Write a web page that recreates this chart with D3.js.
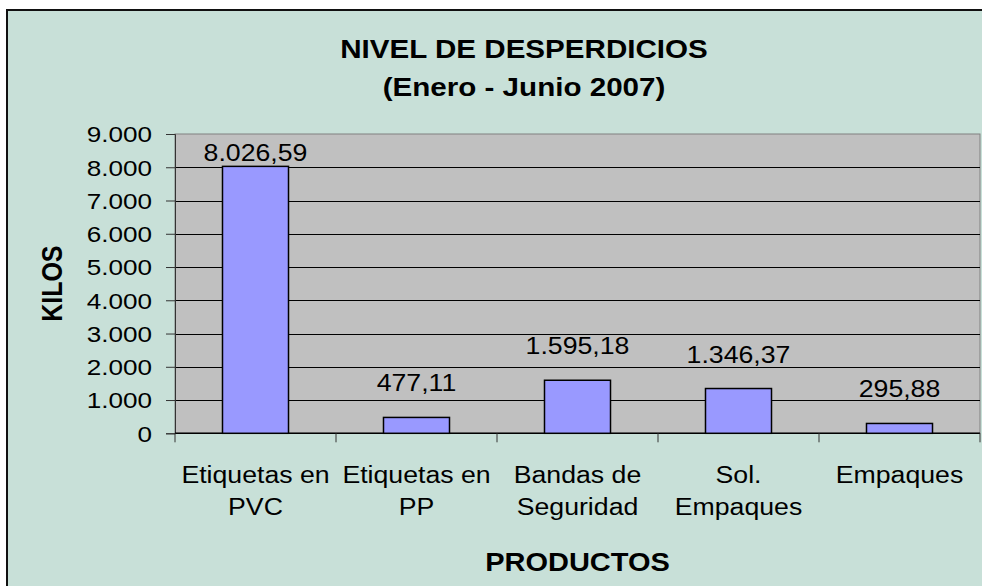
<!DOCTYPE html>
<html>
<head>
<meta charset="utf-8">
<script src="https://cdn.jsdelivr.net/npm/d3@7"></script>
<style>
  body { margin: 0; background: #fff; }
  svg { display: block; }
  text { font-family: "Liberation Sans", Arial, sans-serif; fill: #000; }
</style>
</head>
<body>
<svg width="982" height="586"></svg>
<script>
/* data */
const categories = ['Etiquetas en PVC', 'Etiquetas en PP', 'Bandas de Seguridad', 'Sol. Empaques', 'Empaques'];
const categoryLines = [['Etiquetas en', 'PVC'], ['Etiquetas en', 'PP'], ['Bandas de', 'Seguridad'], ['Sol.', 'Empaques'], ['Empaques']];
const kilos = [8026.59, 477.11, 1595.18, 1346.37, 295.88];
const yTicks = [0, 1000, 2000, 3000, 4000, 5000, 6000, 7000, 8000, 9000];

let svg = d3.select('svg');
const SX = 1.16; // text in the original is a bit wider than Arial

const es = d3.formatLocale({decimal: ',', thousands: '.', grouping: [3], currency: ['', '']});
const fmtTick = es.format(',.0f'), fmtVal = es.format(',.2f');

const plot = {left: 175, top: 134, right: 980, bottom: 433.3};

// chart area
svg.append('rect').attr('x', 7).attr('y', 10).attr('width', 1100).attr('height', 700)
  .attr('fill', '#C8E0D8').attr('stroke', '#111').attr('stroke-width', 2);

let x = d3.scaleBand().domain(categories).range([plot.left, plot.right])
  .paddingInner(0.59).paddingOuter(0.295);
let y = d3.scaleLinear().domain([0, 9000]).range([plot.bottom, plot.top]);

// plot area
svg.append('rect').attr('x', plot.left).attr('y', plot.top)
  .attr('width', plot.right - plot.left).attr('height', plot.bottom - plot.top)
  .attr('fill', '#C0C0C0').attr('stroke', '#808080').attr('stroke-width', 1);

// gridlines
svg.append('g').selectAll('line').data(yTicks.filter(d => d > 0 && d < 9000)).enter().append('line')
  .attr('x1', plot.left).attr('x2', plot.right)
  .attr('y1', d => Math.round(y(d)) + 0.5).attr('y2', d => Math.round(y(d)) + 0.5)
  .attr('stroke', '#000').attr('stroke-width', 1);

// y axis
let yAxis = svg.append('g').attr('transform', `translate(${plot.left},0)`)
  .call(d3.axisLeft(y).tickValues(yTicks).tickSize(9).tickFormat(fmtTick));
yAxis.select('.domain').attr('stroke', '#333');
yAxis.selectAll('.tick line').attr('stroke', '#333');
yAxis.selectAll('.tick text')
  .attr('x', -23 / SX).attr('dy', '0.35em')
  .attr('transform', `scale(${SX},1)`)
  .style('font-size', '22.5px').style('font-family', '"Liberation Sans", Arial, sans-serif').attr('fill', '#000');

// x axis line + ticks at category boundaries
svg.append('line').attr('x1', plot.left).attr('x2', plot.right)
  .attr('y1', plot.bottom).attr('y2', plot.bottom).attr('stroke', '#000').attr('stroke-width', 1.5);
let bounds = categories.map(c => x(c) - x.paddingInner() * x.step() / 2).concat([plot.right]);
bounds[0] = plot.left;
svg.append('g').selectAll('line').data(bounds).enter().append('line')
  .attr('x1', d => d).attr('x2', d => d)
  .attr('y1', plot.bottom).attr('y2', plot.bottom + 9)
  .attr('stroke', '#333');

// bars
svg.append('g').selectAll('rect').data(kilos).enter().append('rect')
  .attr('x', (d, i) => x(categories[i]))
  .attr('y', d => y(d))
  .attr('width', x.bandwidth())
  .attr('height', d => plot.bottom - y(d))
  .attr('fill', '#9999FF').attr('stroke', '#000').attr('stroke-width', 1.5);

function stretchedText(g, tx, ty, str, size, bold) {
  return g.append('text')
    .attr('transform', `translate(${tx},${ty}) scale(${SX},1)`)
    .attr('text-anchor', 'middle')
    .style('font-size', size + 'px')
    .style('font-weight', bold ? 'bold' : 'normal')
    .text(str);
}

// value labels
let labels = svg.append('g');
kilos.forEach((v, i) => {
  let by = Math.max(y(v) - 26, 160.5);
  stretchedText(labels, x(categories[i]) + x.bandwidth() / 2, by, fmtVal(v), 23, false);
});

// category labels
let cats = svg.append('g');
categoryLines.forEach((lines, i) => {
  lines.forEach((ln, j) => {
    stretchedText(cats, x(categories[i]) + x.bandwidth() / 2, 483.3 + j * 31.7, ln, 23, false);
  });
});

// titles
stretchedText(svg, 524, 58.3, 'NIVEL DE DESPERDICIOS', 25.5, true);
stretchedText(svg, 524, 96, '(Enero - Junio 2007)', 25.5, true);
stretchedText(svg, (plot.left + plot.right) / 2, 571, 'PRODUCTOS', 25, true);

svg.append('text')
  .attr('transform', `translate(62,${(plot.top + plot.bottom) / 2}) rotate(-90) scale(1,${SX})`)
  .attr('text-anchor', 'middle')
  .style('font-size', '25px').style('font-weight', 'bold')
  .text('KILOS');
</script>
</body>
</html>
